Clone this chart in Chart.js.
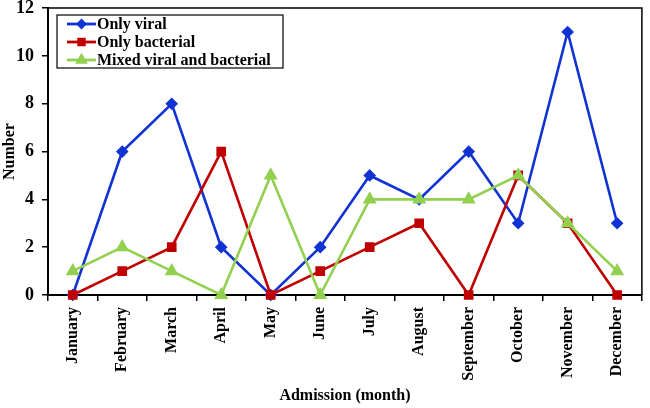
<!DOCTYPE html>
<html>
<head>
<meta charset="utf-8">
<script src="https://cdn.jsdelivr.net/npm/chart.js@4"></script>
<style>
  html, body { margin: 0; padding: 0; background: #fff; }
  #wrap { width: 650px; height: 408px; }
</style>
</head>
<body>
<div id="wrap"><canvas id="chart" width="650" height="408"></canvas></div>
<script>
var months = ['January', 'February', 'March', 'April', 'May', 'June', 'July',
  'August', 'September', 'October', 'November', 'December'];
var onlyViral = [0, 6, 8, 2, 0, 2, 5, 4, 6, 3, 11, 3];
var onlyBacterial = [0, 1, 2, 6, 0, 1, 2, 3, 0, 5, 3, 0];
var mixed = [1, 2, 1, 0, 5, 0, 4, 4, 4, 5, 3, 1];
var seriesNames = ['Only viral', 'Only bacterial', 'Mixed viral and bacterial'];
var yTicks = [0, 2, 4, 6, 8, 10, 12];

var serif = '"Liberation Serif", "Times New Roman", serif';

// frame round the plot and the boxed legend in the top left corner
var framePlugin = {
  id: 'frame',
  afterDraw: function (chart) {
    var ctx = chart.ctx, a = chart.chartArea;
    ctx.save();
    ctx.strokeStyle = '#000';
    ctx.lineWidth = 1.5;
    ctx.beginPath();
    ctx.moveTo(a.left, a.top);
    ctx.lineTo(a.right, a.top);
    ctx.lineTo(a.right, a.bottom);
    ctx.stroke();

    var bx = 57, by = 15, bw = 226, bh = 53;
    ctx.lineWidth = 1.2;
    ctx.fillStyle = '#fff';
    ctx.fillRect(bx, by, bw, bh);
    ctx.strokeRect(bx, by, bw, bh);
    ctx.font = 'bold 16px ' + serif;
    ctx.textBaseline = 'middle';
    chart.data.datasets.forEach(function (ds, i) {
      var y = by + 9 + i * 18;
      ctx.strokeStyle = ds.borderColor;
      ctx.lineWidth = 2.8;
      ctx.beginPath();
      ctx.moveTo(67, y);
      ctx.lineTo(96, y);
      ctx.stroke();
      Chart.helpers.drawPoint(ctx, {
        pointStyle: ds.pointStyle, radius: ds.pointRadius - 1, rotation: 0,
        borderWidth: 1
      }, 81.5, y);
      ctx.fillStyle = ds.borderColor;
      ctx.strokeStyle = ds.borderColor;
      ctx.fill();
      ctx.fillStyle = '#000';
      ctx.fillText(ds.label, 97, y + 1);
    });
    ctx.restore();
  }
};

function series(label, data, color, style, r, order) {
  return {
    label: label,
    data: data,
    order: order,
    borderColor: color,
    backgroundColor: color,
    pointBackgroundColor: color,
    pointBorderColor: color,
    pointStyle: style,
    pointRadius: r,
    pointHoverRadius: r,
    borderWidth: 2.6,
    tension: 0,
    clip: false
  };
}

new Chart(document.getElementById('chart'), {
  type: 'line',
  data: {
    labels: months,
    datasets: [
      series(seriesNames[0], onlyViral, '#1133d4', 'rectRot', 4.5, 3),
      series(seriesNames[1], onlyBacterial, '#c00000', 'rect', 5, 2),
      series(seriesNames[2], mixed, '#92d050', 'triangle', 5.5, 1)
    ]
  },
  options: {
    responsive: false,
    animation: false,
    layout: { padding: { top: 7, right: 3, left: 0, bottom: 0 } },
    plugins: {
      legend: { display: false },
      tooltip: { enabled: false }
    },
    scales: {
      x: {
        offset: true,
        afterFit: function (axis) {
          axis.height = 113;
          axis.paddingLeft = 0;
          axis.paddingRight = 0;
        },
        grid: { offset: true, drawOnChartArea: false, tickLength: 6, color: '#000', lineWidth: 1.5 },
        border: { color: '#000', width: 2 },
        ticks: {
          color: '#000', font: { family: serif, size: 16, weight: 'bold' },
          minRotation: 90, maxRotation: 90, padding: 6
        },
        title: {
          display: true, text: 'Admission (month)', color: '#000',
          font: { family: serif, size: 16, weight: 'bold' }, padding: { top: 14, bottom: 3 }
        }
      },
      y: {
        min: 0, max: 12,
        afterBuildTicks: function (axis) {
          axis.ticks = yTicks.map(function (v) { return { value: v }; });
        },
        afterFit: function (axis) {
          axis.width = 48;
          axis.paddingTop = 0;
          axis.paddingBottom = 0;
        },
        grid: { drawOnChartArea: false, tickLength: 6, color: '#000', lineWidth: 1.5 },
        border: { color: '#000', width: 2 },
        ticks: {
          color: '#000', font: { family: serif, size: 18, weight: 'bold' }, padding: 8
        },
        title: {
          display: true, text: 'Number', color: '#000',
          font: { family: serif, size: 16, weight: 'bold' }, padding: { top: 0, bottom: 0 }
        }
      }
    }
  },
  plugins: [framePlugin]
});
</script>
</body>
</html>
